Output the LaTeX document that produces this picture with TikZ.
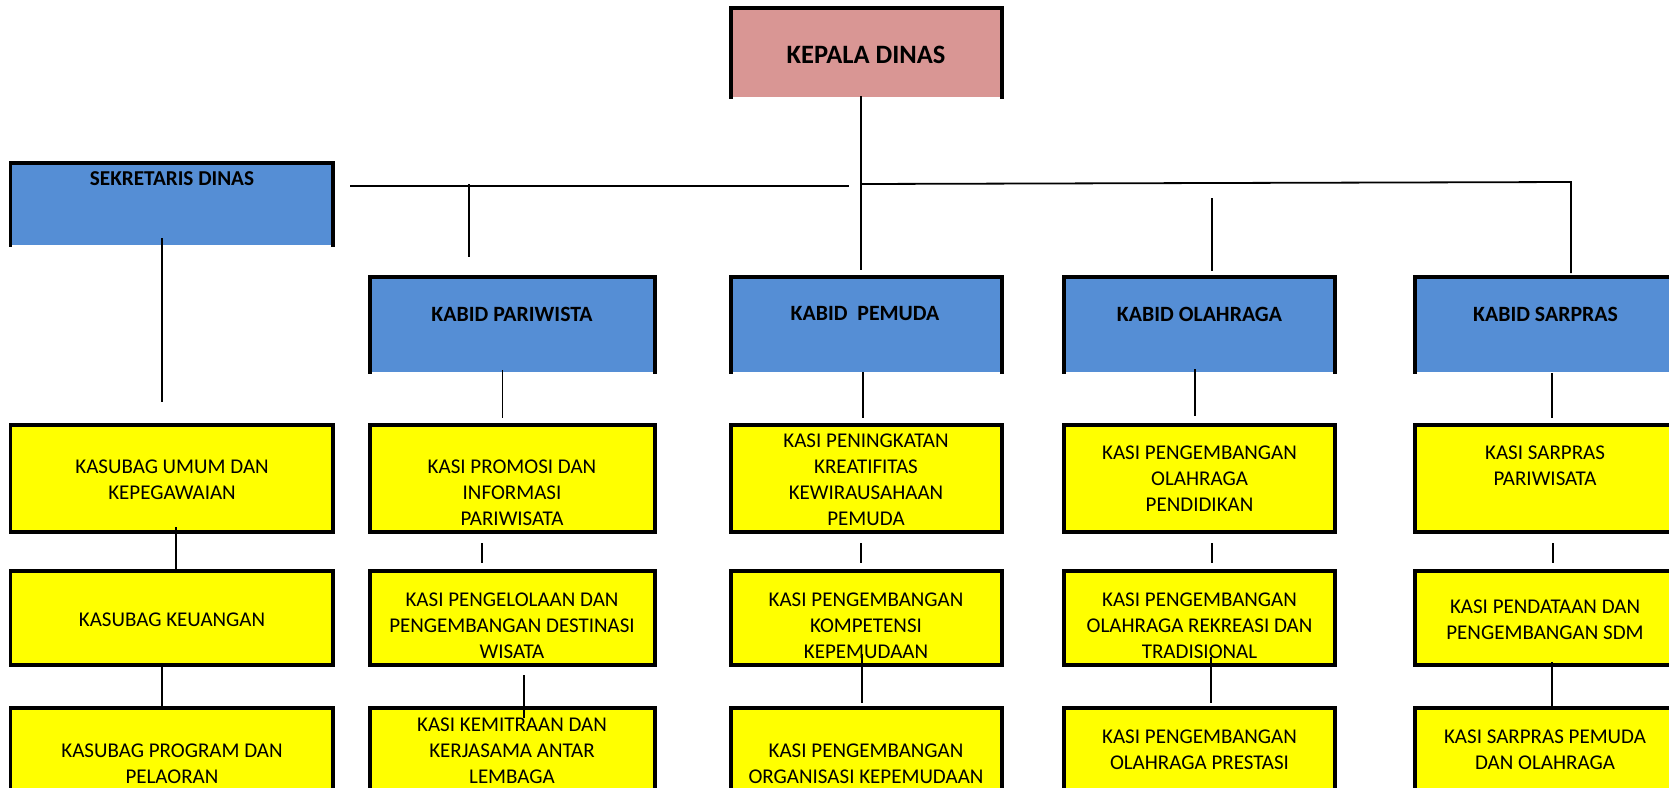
\documentclass[tikz,border=0pt]{standalone}
\usepackage{fontspec}
\setmainfont{Carlito}
\definecolor{pinkbox}{HTML}{D99694}
\definecolor{bluebox}{HTML}{558ED5}
\definecolor{yellowbox}{HTML}{FFFF00}
\tikzset{
  yfont/.style={font=\fontsize{21}{26}\selectfont, align=center, inner sep=0pt},
  hfont/.style={font=\bfseries\fontsize{21.8}{26}\selectfont, align=center, inner sep=0pt},
  sfont/.style={font=\bfseries\fontsize{21.2}{26}\selectfont, align=center, inner sep=0pt},
  kfont/.style={font=\bfseries\fontsize{26.5}{30}\selectfont, align=center, inner sep=0pt},
  boxfill/.style={rectangle, inner sep=0pt, outer sep=0pt, draw=none},
  border/.style={line width=3.2pt, line cap=rect},
  topborder/.style={line width=4pt, line cap=rect},
  conn/.style={line width=1.8pt, black},
}
% open box (top, left, right borders) : name, x1, y1, x2, y2, colour
\newcommand\openbox[6]{%
  \node[boxfill, fill=#6, minimum width={#4-#2}, minimum height={#5-#3}] (#1) at ({(#2+#4)/2},{(#3+#5)/2}) {};
  \draw[border] (#1.south west) -- (#1.north west);
  \draw[border] (#1.south east) -- (#1.north east);
  \draw[topborder] (#1.north west) -- (#1.north east);
}
% closed yellow box
\newcommand\closedbox[5]{%
  \node[boxfill, fill=yellowbox, minimum width={#4-#2}, minimum height={#5-#3}] (#1) at ({(#2+#4)/2},{(#3+#5)/2}) {};
  \draw[border] (#1.south west) rectangle (#1.north east);
  \draw[topborder] (#1.north west) -- (#1.north east);
}
\begin{document}
\begin{tikzpicture}[x=1pt,y=-1pt]
\useasboundingbox (0,0) rectangle (1669,787);
\fill[white] (0,0) rectangle (1669,787);

% top level
\openbox{kd}{731}{8}{1002}{97}{pinkbox}
\node[kfont] (kdt) at (866,54.7) {KEPALA DINAS};

\openbox{sd}{10.5}{163}{333}{245}{bluebox}
\node[sfont] (sdt) at (172,179) {SEKRETARIS DINAS};

% kabid row
\openbox{kb1}{370}{277}{655}{372}{bluebox}
\openbox{kb2}{731}{277}{1002}{372}{bluebox}
\openbox{kb3}{1064}{277}{1335}{372}{bluebox}
\openbox{kb4}{1415}{277}{1676}{372}{bluebox}
\node[hfont] (kb1t) at (512,314) {KABID PARIWISTA};
\node[hfont] (kb2t) at (865,314) {KABID\ \ PEMUDA};
\node[hfont] (kb3t) at (1199.5,314) {KABID OLAHRAGA};
\node[hfont] (kb4t) at (1545.5,314) {KABID SARPRAS};

% yellow row 1
\closedbox{a1}{10.5}{425}{333}{532}
\closedbox{b1}{370}{425}{655}{532}
\closedbox{c1}{731}{425}{1002}{532}
\closedbox{d1}{1064}{425}{1335}{532}
\closedbox{e1}{1415}{425}{1676}{532}
% yellow row 2
\closedbox{a2}{10.5}{571}{333}{665}
\closedbox{b2}{370}{571}{655}{665}
\closedbox{c2}{731}{571}{1002}{665}
\closedbox{d2}{1064}{571}{1335}{665}
\closedbox{e2}{1415}{571}{1676}{665}
% yellow row 3
\closedbox{a3}{10.5}{708}{333}{800}
\closedbox{b3}{370}{708}{655}{800}
\closedbox{c3}{731}{708}{1002}{800}
\closedbox{d3}{1064}{708}{1335}{800}
\closedbox{e3}{1415}{708}{1676}{800}

\node[yfont] (a1t) at (172,479.5) {KASUBAG UMUM DAN\\KEPEGAWAIAN};
\node[yfont] (b1t) at (512,492.5) {KASI PROMOSI DAN\\INFORMASI\\PARIWISATA};
\node[yfont] (c1t) at (866,479.5) {KASI PENINGKATAN\\KREATIFITAS\\KEWIRAUSAHAAN\\PEMUDA};
\node[yfont] (d1t) at (1199.5,479) {KASI PENGEMBANGAN\\OLAHRAGA\\PENDIDIKAN};
\node[yfont] (e1t) at (1545,466) {KASI SARPRAS\\PARIWISATA};

\node[yfont] (a2t) at (172,620) {KASUBAG KEUANGAN};
\node[yfont] (b2t) at (512,625.5) {KASI PENGELOLAAN DAN\\PENGEMBANGAN DESTINASI\\WISATA};
\node[yfont] (c2t) at (866,625.5) {KASI PENGEMBANGAN\\KOMPETENSI\\KEPEMUDAAN};
\node[yfont] (d2t) at (1199.5,625.5) {KASI PENGEMBANGAN\\OLAHRAGA REKREASI DAN\\TRADISIONAL};
\node[yfont] (e2t) at (1545,620) {KASI PENDATAAN DAN\\PENGEMBANGAN SDM};

\node[yfont] (a3t) at (172,764) {KASUBAG PROGRAM DAN\\PELAORAN};
\node[yfont] (b3t) at (512,750.5) {KASI KEMITRAAN DAN\\KERJASAMA ANTAR\\LEMBAGA};
\node[yfont] (c3t) at (866,764) {KASI PENGEMBANGAN\\ORGANISASI KEPEMUDAAN};
\node[yfont] (d3t) at (1199.5,750) {KASI PENGEMBANGAN\\OLAHRAGA PRESTASI};
\node[yfont] (e3t) at (1545,750) {KASI SARPRAS PEMUDA\\DAN OLAHRAGA};

% connector coordinates
\coordinate (kdA) at (861,96);   \coordinate (kdB) at (861,270);
\coordinate (hL1) at (350,186);  \coordinate (hL2) at (849,186);
\coordinate (pw1) at (469,184);  \coordinate (pw2) at (469,257);
\coordinate (hR1) at (861,184);  \coordinate (hR2) at (1571,182); \coordinate (hR3) at (1571,273);
\coordinate (ol1) at (1212,198); \coordinate (ol2) at (1212,271);
\coordinate (sd1) at (162,238);  \coordinate (sd2) at (162,402);
\coordinate (k1a) at (502.5,370); \coordinate (k1b) at (502.5,418);
\coordinate (k2a) at (863,372);  \coordinate (k2b) at (863,418);
\coordinate (k3a) at (1195,369); \coordinate (k3b) at (1195,416);
\coordinate (k4a) at (1552,373); \coordinate (k4b) at (1552,418);
\coordinate (a12a) at (176,527); \coordinate (a12b) at (176,571);
\coordinate (a23a) at (162,665); \coordinate (a23b) at (162,708);
\coordinate (b12a) at (482,543); \coordinate (b12b) at (482,563);
\coordinate (b23a) at (524,675); \coordinate (b23b) at (524,718);
\coordinate (c12a) at (861,543); \coordinate (c12b) at (861,563);
\coordinate (c23a) at (862,654); \coordinate (c23b) at (862,703);
\coordinate (d12a) at (1212,543); \coordinate (d12b) at (1212,563);
\coordinate (d23a) at (1211,657); \coordinate (d23b) at (1211,703);
\coordinate (e12a) at (1553,543); \coordinate (e12b) at (1553,563);
\coordinate (e23a) at (1552,662); \coordinate (e23b) at (1552,707);

\draw[conn] (kdA) -- (kdB);
\draw[conn] (hL1) -- (hL2);
\draw[conn] (pw1) -- (pw2);
\draw[conn] (hR1) -- (hR2) -- (hR3);
\draw[conn] (ol1) -- (ol2);
\draw[conn] (sd1) -- (sd2);
\draw[conn] (k1a) -- (k1b);
\draw[conn] (k2a) -- (k2b);
\draw[conn] (k3a) -- (k3b);
\draw[conn] (k4a) -- (k4b);
\draw[conn] (a12a) -- (a12b);
\draw[conn] (a23a) -- (a23b);
\draw[conn] (b12a) -- (b12b);
\draw[conn] (b23a) -- (b23b);
\draw[conn] (c12a) -- (c12b);
\draw[conn] (c23a) -- (c23b);
\draw[conn] (d12a) -- (d12b);
\draw[conn] (d23a) -- (d23b);
\draw[conn] (e12a) -- (e12b);
\draw[conn] (e23a) -- (e23b);
\end{tikzpicture}
\end{document}
